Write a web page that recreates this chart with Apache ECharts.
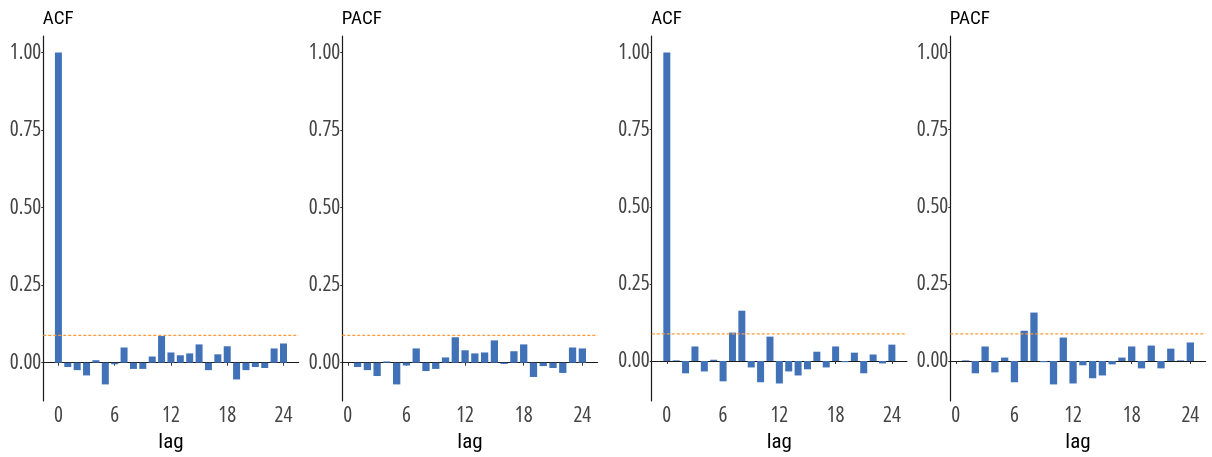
<!DOCTYPE html>
<html><head><meta charset="utf-8">
<script src="https://cdn.jsdelivr.net/npm/echarts@6/dist/echarts.min.js"></script>
<style>html,body{margin:0;padding:0;background:#fff}#c{width:1212px;height:457px}</style>
</head><body><div id="c"></div>
<script>
// ---- data ----
const lagsAcf = [0,1,2,3,4,5,6,7,8,9,10,11,12,13,14,15,16,17,18,19,20,21,22,23,24];
const lagsPacf = [1,2,3,4,5,6,7,8,9,10,11,12,13,14,15,16,17,18,19,20,21,22,23,24];
const acf1 = [1.000, -0.014, -0.024, -0.041, 0.008, -0.070, -0.005, 0.049, -0.020, -0.020, 0.020, 0.086, 0.033, 0.024, 0.030, 0.059, -0.024, 0.027, 0.053, -0.054, -0.024, -0.014, -0.017, 0.046, 0.062];
const pacf1 = [-0.014, -0.024, -0.043, 0.004, -0.070, -0.009, 0.046, -0.027, -0.020, 0.017, 0.082, 0.040, 0.030, 0.033, 0.072, -0.004, 0.037, 0.059, -0.046, -0.011, -0.017, -0.033, 0.049, 0.046];
const acf2 = [1.000, 0.002, -0.040, 0.047, -0.034, 0.004, -0.066, 0.092, 0.163, -0.021, -0.069, 0.079, -0.073, -0.034, -0.047, -0.027, 0.030, -0.021, 0.047, -0.004, 0.027, -0.040, 0.021, -0.008, 0.053];
const pacf2 = [0.002, -0.040, 0.047, -0.037, 0.011, -0.069, 0.098, 0.157, -0.004, -0.076, 0.076, -0.073, -0.014, -0.056, -0.047, -0.011, 0.011, 0.047, -0.024, 0.050, -0.024, 0.040, 0.002, 0.060];
const panelTitles = ['ACF', 'PACF', 'ACF', 'PACF'];
const xTicks = [0, 6, 12, 18, 24];
const yTicks = [0, 0.25, 0.5, 0.75, 1];
const ciBound = 0.088;
const xName = 'lag';

// ---- layout ----
const FONT = "'Open Sans','Roboto Condensed',sans-serif";
const FONT2 = "'Roboto Condensed','Liberation Sans',sans-serif";
const panels = [
  {lags: lagsAcf, vals: acf1, left: 43.3, xmin: -1.6125, xmax: 25.6125, ymin: -0.1235, ymax: 1.0535, bw: 7},
  {lags: lagsPacf, vals: pacf1, left: 342.3, xmin: -0.5625, xmax: 25.5625, ymin: -0.1235, ymax: 1.0535, bw: 7.3},
  {lags: lagsAcf, vals: acf2, left: 651.7, xmin: -1.6125, xmax: 25.6125, ymin: -0.1298, ymax: 1.0538, bw: 7},
  {lags: lagsPacf, vals: pacf2, left: 950.3, xmin: -0.5625, xmax: 25.5625, ymin: -0.1298, ymax: 1.0538, bw: 7.3}
];
const W = 255.3, TOP = 36, BOTTOM = 56;
const axisCol = '#1a1a1a', labCol = '#444';
const tickText = {fontFamily: FONT, fontWeight: 'condensed', fontSize: 21, color: labCol};

const option = {
  animation: false,
  backgroundColor: '#fff',
  title: panels.map((p, i) => ({
    text: panelTitles[i], left: p.left - 0.5, top: 10, padding: 0,
    textStyle: {fontFamily: FONT2, fontSize: 19, fontWeight: 'normal', color: '#000'}
  })),
  grid: panels.map(p => ({left: p.left, width: W, top: TOP, bottom: BOTTOM,
    containLabel: false, outerBoundsMode: 'none'})),
  xAxis: panels.map((p, i) => ({
    type: 'value', gridIndex: i, min: p.xmin, max: p.xmax,
    name: xName, nameLocation: 'middle', nameGap: 27,
    nameTextStyle: {fontFamily: FONT2, fontSize: 21, color: '#000'},
    splitLine: {show: false},
    axisLine: {show: true, lineStyle: {color: axisCol, width: 1.2}},
    axisTick: {show: true, length: 3, lineStyle: {color: '#333'}, customValues: xTicks},
    axisLabel: Object.assign({margin: 5, customValues: xTicks, formatter: v => String(v)}, tickText)
  })),
  yAxis: panels.map((p, i) => ({
    type: 'value', gridIndex: i, min: p.ymin, max: p.ymax,
    splitLine: {show: false},
    axisLine: {show: true, onZero: false, lineStyle: {color: axisCol, width: 1.2}},
    axisTick: {show: true, length: 2, lineStyle: {color: '#333'}, customValues: yTicks},
    axisLabel: Object.assign({margin: 2, customValues: yTicks, formatter: v => v.toFixed(2)}, tickText)
  })),
  series: panels.flatMap((p, i) => [{
    type: 'bar', xAxisIndex: i, yAxisIndex: i,
    barWidth: p.bw,
    itemStyle: {color: '#4172B8'},
    data: p.lags.map((l, k) => [l, p.vals[k]])
  }, {
    type: 'line', xAxisIndex: i, yAxisIndex: i, silent: true,
    symbol: 'none', z: 5,
    lineStyle: {color: '#FF9A3A', type: [3, 2], width: 1.1},
    data: [[p.xmin, ciBound], [p.xmax, ciBound]]
  }])
};
const chart = echarts.init(document.getElementById('c'), null, {renderer: 'canvas'});
chart.setOption(option);
</script>
</body></html>
